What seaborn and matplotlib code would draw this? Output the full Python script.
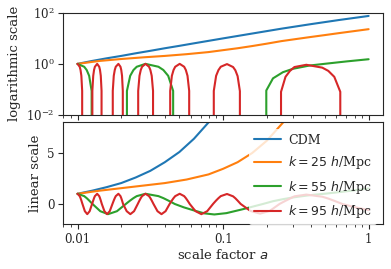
import matplotlib
matplotlib.use("Agg")
import matplotlib.pyplot as plt
import seaborn as sns
import numpy as np

# log10 of scale factor and growth values
cdm_loga = [-2.0, -1.9, -1.8, -1.7, -1.6, -1.5, -1.4, -1.3, -1.2, -1.1,
            -1.0, -0.8, -0.6, -0.4, -0.2, 0.0]
cdm_val = [1.0, 1.3, 1.65, 2.05, 2.6, 3.25, 4.1, 5.1, 6.4, 8.0,
           10.0, 15.5, 24.0, 36.0, 53.0, 76.0]

k25_loga = [-2.0, -1.85, -1.7, -1.55, -1.4, -1.25, -1.1, -1.0, -0.9, -0.8,
            -0.7, -0.6, -0.5, -0.4, -0.3, -0.2, -0.1, 0.0]
k25_val = [1.0, 1.3, 1.55, 1.8, 2.05, 2.4, 2.9, 3.45, 4.1, 5.0,
           6.2, 7.8, 9.4, 11.3, 13.5, 16.2, 19.3, 23.0]

k55_loga = [-2.0, -1.954, -1.937, -1.920, -1.903, -1.897,
            -1.8435, -1.79, -1.729, -1.668,
            -1.6605, -1.638, -1.6155, -1.593, -1.533,
            -1.444, -1.4102, -1.377, -1.343, -1.332,
            -1.27, -1.206, -1.13, -1.06, -0.977, -0.863, -0.726,
            -0.703, -0.657, -0.589, -0.520, -0.406, -0.291, -0.15, 0.0]
k55_val = [1.0, 0.77, 0.574, 0.34, 0.087, 0.0,
           -0.71, -1.0, -0.71, 0.0,
           0.087, 0.34, 0.574, 0.77, 1.0,
           0.77, 0.574, 0.34, 0.087, 0.0,
           -0.33, -0.61, -0.92, -1.03, -0.9, -0.51, 0.0,
           0.09, 0.27, 0.47, 0.64, 0.86, 1.02, 1.25, 1.52]

k95_loga = [-2.000, -1.985, -1.9792, -1.9735, -1.968, -1.966,
            -1.9495, -1.933, -1.9165, -1.900,
            -1.898, -1.892, -1.8864, -1.8806, -1.865,
            -1.8508, -1.8454, -1.8401, -1.8348, -1.833,
            -1.815, -1.797, -1.7785, -1.760,
            -1.7577, -1.7509, -1.744, -1.7372, -1.719,
            -1.7048, -1.6994, -1.6941, -1.6888, -1.687,
            -1.662, -1.637, -1.6115, -1.586,
            -1.5831, -1.5742, -1.5654, -1.5565, -1.533,
            -1.5086, -1.4994, -1.4902, -1.4811, -1.478,
            -1.4505, -1.423, -1.395, -1.367,
            -1.3632, -1.3517, -1.3402, -1.3287, -1.298,
            -1.2673, -1.2558, -1.2443, -1.2328, -1.229,
            -1.189, -1.149, -1.109, -1.069,
            -1.0637, -1.0477, -1.0317, -1.0157, -0.973,
            -0.9312, -0.9156, -0.9001, -0.8844, -0.879,
            -0.8125, -0.746, -0.679, -0.612,
            -0.6018, -0.5711, -0.5404, -0.5098, -0.428,
            -0.3182, -0.277, -0.2359, -0.1947, -0.181,
            -0.135, -0.09, -0.045, 0.0]
k95_val = [1.0, 0.77, 0.574, 0.34, 0.087, 0.0,
           -0.71, -1.0, -0.71, 0.0,
           0.087, 0.34, 0.574, 0.77, 1.0,
           0.77, 0.574, 0.34, 0.087, 0.0,
           -0.71, -1.0, -0.71, 0.0,
           0.087, 0.34, 0.574, 0.77, 1.0,
           0.77, 0.574, 0.34, 0.087, 0.0,
           -0.71, -1.0, -0.71, 0.0,
           0.087, 0.34, 0.574, 0.77, 1.0,
           0.77, 0.574, 0.34, 0.087, 0.0,
           -0.71, -1.0, -0.71, 0.0,
           0.087, 0.34, 0.574, 0.77, 1.0,
           0.77, 0.574, 0.34, 0.087, 0.0,
           -0.71, -1.0, -0.71, 0.0,
           0.087, 0.34, 0.57, 0.77, 0.98,
           0.75, 0.56, 0.33, 0.085, 0.0,
           -0.68, -0.95, -0.68, 0.0,
           0.08, 0.31, 0.53, 0.75, 0.92,
           0.71, 0.53, 0.31, 0.08, 0.0,
           -0.17, -0.33, -0.47, -0.6]

series = [
    ("CDM", cdm_loga, cdm_val),
    (r"$k = 25\ h$/Mpc", k25_loga, k25_val),
    (r"$k = 55\ h$/Mpc", k55_loga, k55_val),
    (r"$k = 95\ h$/Mpc", k95_loga, k95_val),
]
colors = sns.color_palette("tab10", 4)

sns.set_style("ticks")
plt.rcParams["font.family"] = ["DejaVu Serif"]
plt.rcParams["mathtext.fontset"] = "dejavusans"
plt.rcParams["xtick.major.size"] = 3.5
plt.rcParams["ytick.major.size"] = 3.5
plt.rcParams["xtick.minor.size"] = 2
plt.rcParams["xtick.major.pad"] = 2.5
plt.rcParams["ytick.major.pad"] = 2.5
plt.rcParams["axes.edgecolor"] = "0.15"

fig, (ax1, ax2) = plt.subplots(2, 1, sharex=True, figsize=(3.91, 2.69), dpi=100)
fig.subplots_adjust(left=0.161, right=0.980, top=0.952, bottom=0.166, hspace=0.075)

for (label, loga, val), c in zip(series, colors):
    a = 10 ** np.array(loga)
    sns.lineplot(x=a, y=val, ax=ax1, color=c, lw=1.5, errorbar=None)
    sns.lineplot(x=a, y=val, ax=ax2, color=c, lw=1.5, errorbar=None, label=label)

# scales are set after drawing so the log axis clips the negative values
ax1.set_xscale("log")
ax1.set_yscale("log")
ax1.set_ylim(1e-2, 1e2)
ax1.set_yticks([1e-2, 1e0, 1e2])
ax1.yaxis.set_minor_locator(matplotlib.ticker.NullLocator())
ax1.set_ylabel("logarithmic scale", fontsize=9.5)

ax2.set_ylim(-2, 8)
ax2.set_yticks([0, 5])
ax2.set_xticks([0.01, 0.1, 1])
ax2.set_xticklabels(["0.01", "0.1", "1"])
ax2.set_ylabel("linear scale", fontsize=9.5)
ax2.set_xlabel("scale factor $a$", fontsize=9.5, labelpad=2)

for ax in (ax1, ax2):
    ax.tick_params(labelsize=8.5)

leg = ax2.legend(loc="upper right", fontsize=9, labelspacing=0.6,
                 handlelength=2.1, handletextpad=0.6, borderaxespad=0.5)
leg.get_frame().set_edgecolor("none")

fig.savefig("out.png", dpi=100)
